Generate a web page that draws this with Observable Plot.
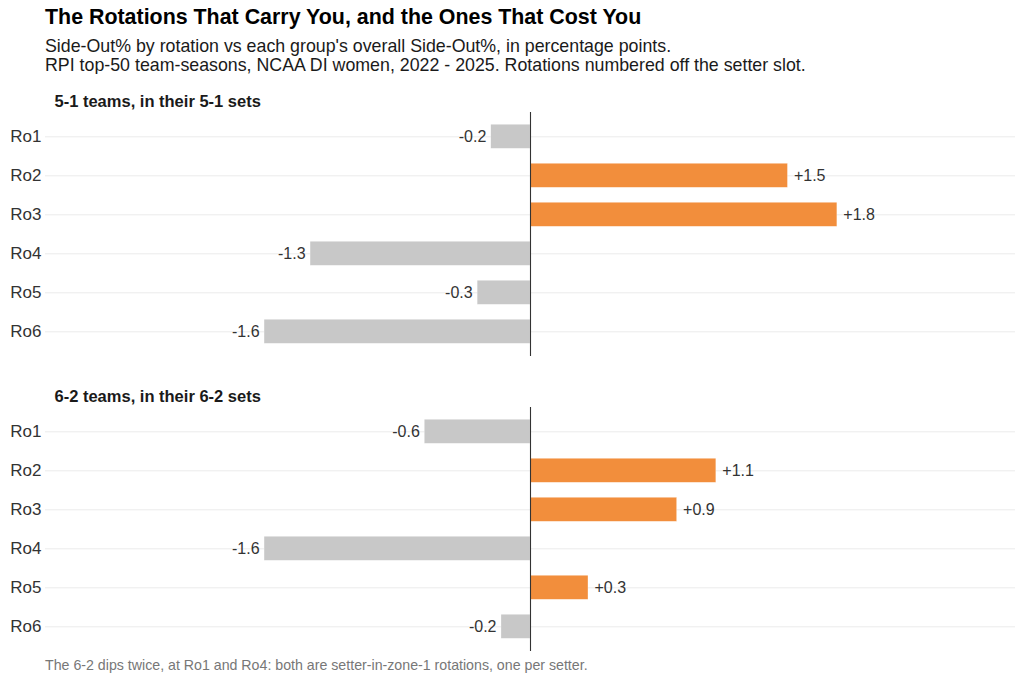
<!DOCTYPE html>
<html>
<head>
<meta charset="utf-8">
<script src="https://cdn.jsdelivr.net/npm/d3@7"></script>
<script src="https://cdn.jsdelivr.net/npm/@observablehq/plot@0.6"></script>
<style>
  body { margin: 0; background: #fff; font-family: "Liberation Sans", Arial, sans-serif; }
  #wrap { width: 1024px; height: 683px; position: relative; overflow: hidden; }
  .title { position: absolute; left: 45px; top: 4px; font-size: 21.4px; font-weight: bold; line-height: 26px; color: #000; white-space: nowrap; }
  .subtitle { position: absolute; left: 45px; top: 37px; font-size: 17.8px; line-height: 19px; color: #1a1a1a; white-space: nowrap; }
  #chart { position: absolute; left: 0; top: 74px; }
  .caption { position: absolute; left: 45px; top: 656px; font-size: 14.2px; line-height: 18px; color: #777; white-space: nowrap; }
</style>
</head>
<body>
<div id="wrap">
  <div class="title">The Rotations That Carry You, and the Ones That Cost You</div>
  <div class="subtitle">Side-Out% by rotation vs each group's overall Side-Out%, in percentage points.<br>RPI top-50 team-seasons, NCAA DI women, 2022 - 2025. Rotations numbered off the setter slot.</div>
  <div id="chart"></div>
  <div class="caption">The 6-2 dips twice, at Ro1 and Ro4: both are setter-in-zone-1 rotations, one per setter.</div>
</div>
<script>
const rotations = ["Ro1", "Ro2", "Ro3", "Ro4", "Ro5", "Ro6"];
const groups = ["5-1 teams, in their 5-1 sets", "6-2 teams, in their 6-2 sets"];
const delta51 = [-0.23, 1.51, 1.80, -1.29, -0.31, -1.56];
const delta62 = [-0.62, 1.09, 0.86, -1.56, 0.34, -0.17];

const rows = [];
rotations.forEach((r, i) => rows.push({group: groups[0], rot: r, v: delta51[i]}));
rotations.forEach((r, i) => rows.push({group: groups[1], rot: r, v: delta62[i]}));
rows.forEach(d => {
  d.sign = d.v > 0 ? "pos" : "neg";
  d.label = (d.v > 0 ? "+" : "") + d.v.toFixed(1);
});
const facetLabels = groups.map(g => ({group: g}));

const chart = Plot.plot({
  width: 1024,
  height: 582.5,
  marginTop: 37.7,
  marginBottom: 4,
  marginLeft: 45,
  marginRight: 9,
  style: {fontFamily: '"Liberation Sans", Arial, sans-serif', background: "#fff"},
  x: {domain: [-2.845, 2.845], axis: null},
  y: {domain: rotations, paddingInner: 0.38, paddingOuter: 0.29, label: null},
  fy: {domain: groups, paddingInner: 0.172, paddingOuter: 0, axis: null, label: null},
  color: {domain: ["pos", "neg"], range: ["#F28E3C", "#C8C8C8"]},
  marks: [
    Plot.ruleY(rows, {y: "rot", fy: "group", stroke: "#ebebeb", strokeWidth: 1}),
    Plot.axisY({tickSize: 0, tickPadding: 4, fontSize: 17, color: "#333", label: null}),
    Plot.barX(rows, {y: "rot", fy: "group", x1: 0, x2: "v", fill: "sign", stroke: "#fff", strokeWidth: 0.4, strokeOpacity: 0.6}),
    Plot.ruleX([0], {stroke: "#333", strokeWidth: 1.1}),
    Plot.text(rows.filter(d => d.v > 0), {y: "rot", fy: "group", x: "v", text: "label", textAnchor: "start", dx: 6, fontSize: 16, fill: "#333"}),
    Plot.text(rows.filter(d => d.v <= 0), {y: "rot", fy: "group", x: "v", text: "label", textAnchor: "end", dx: -5, fontSize: 16, fill: "#333"}),
    Plot.text(facetLabels, {fy: "group", frameAnchor: "top-left", text: "group", dx: 9, dy: -6, lineAnchor: "bottom", textAnchor: "start", fontSize: 16.5, fontWeight: "bold", fill: "#1a1a1a"})
  ]
});
document.getElementById("chart").appendChild(chart);
</script>
</body>
</html>
